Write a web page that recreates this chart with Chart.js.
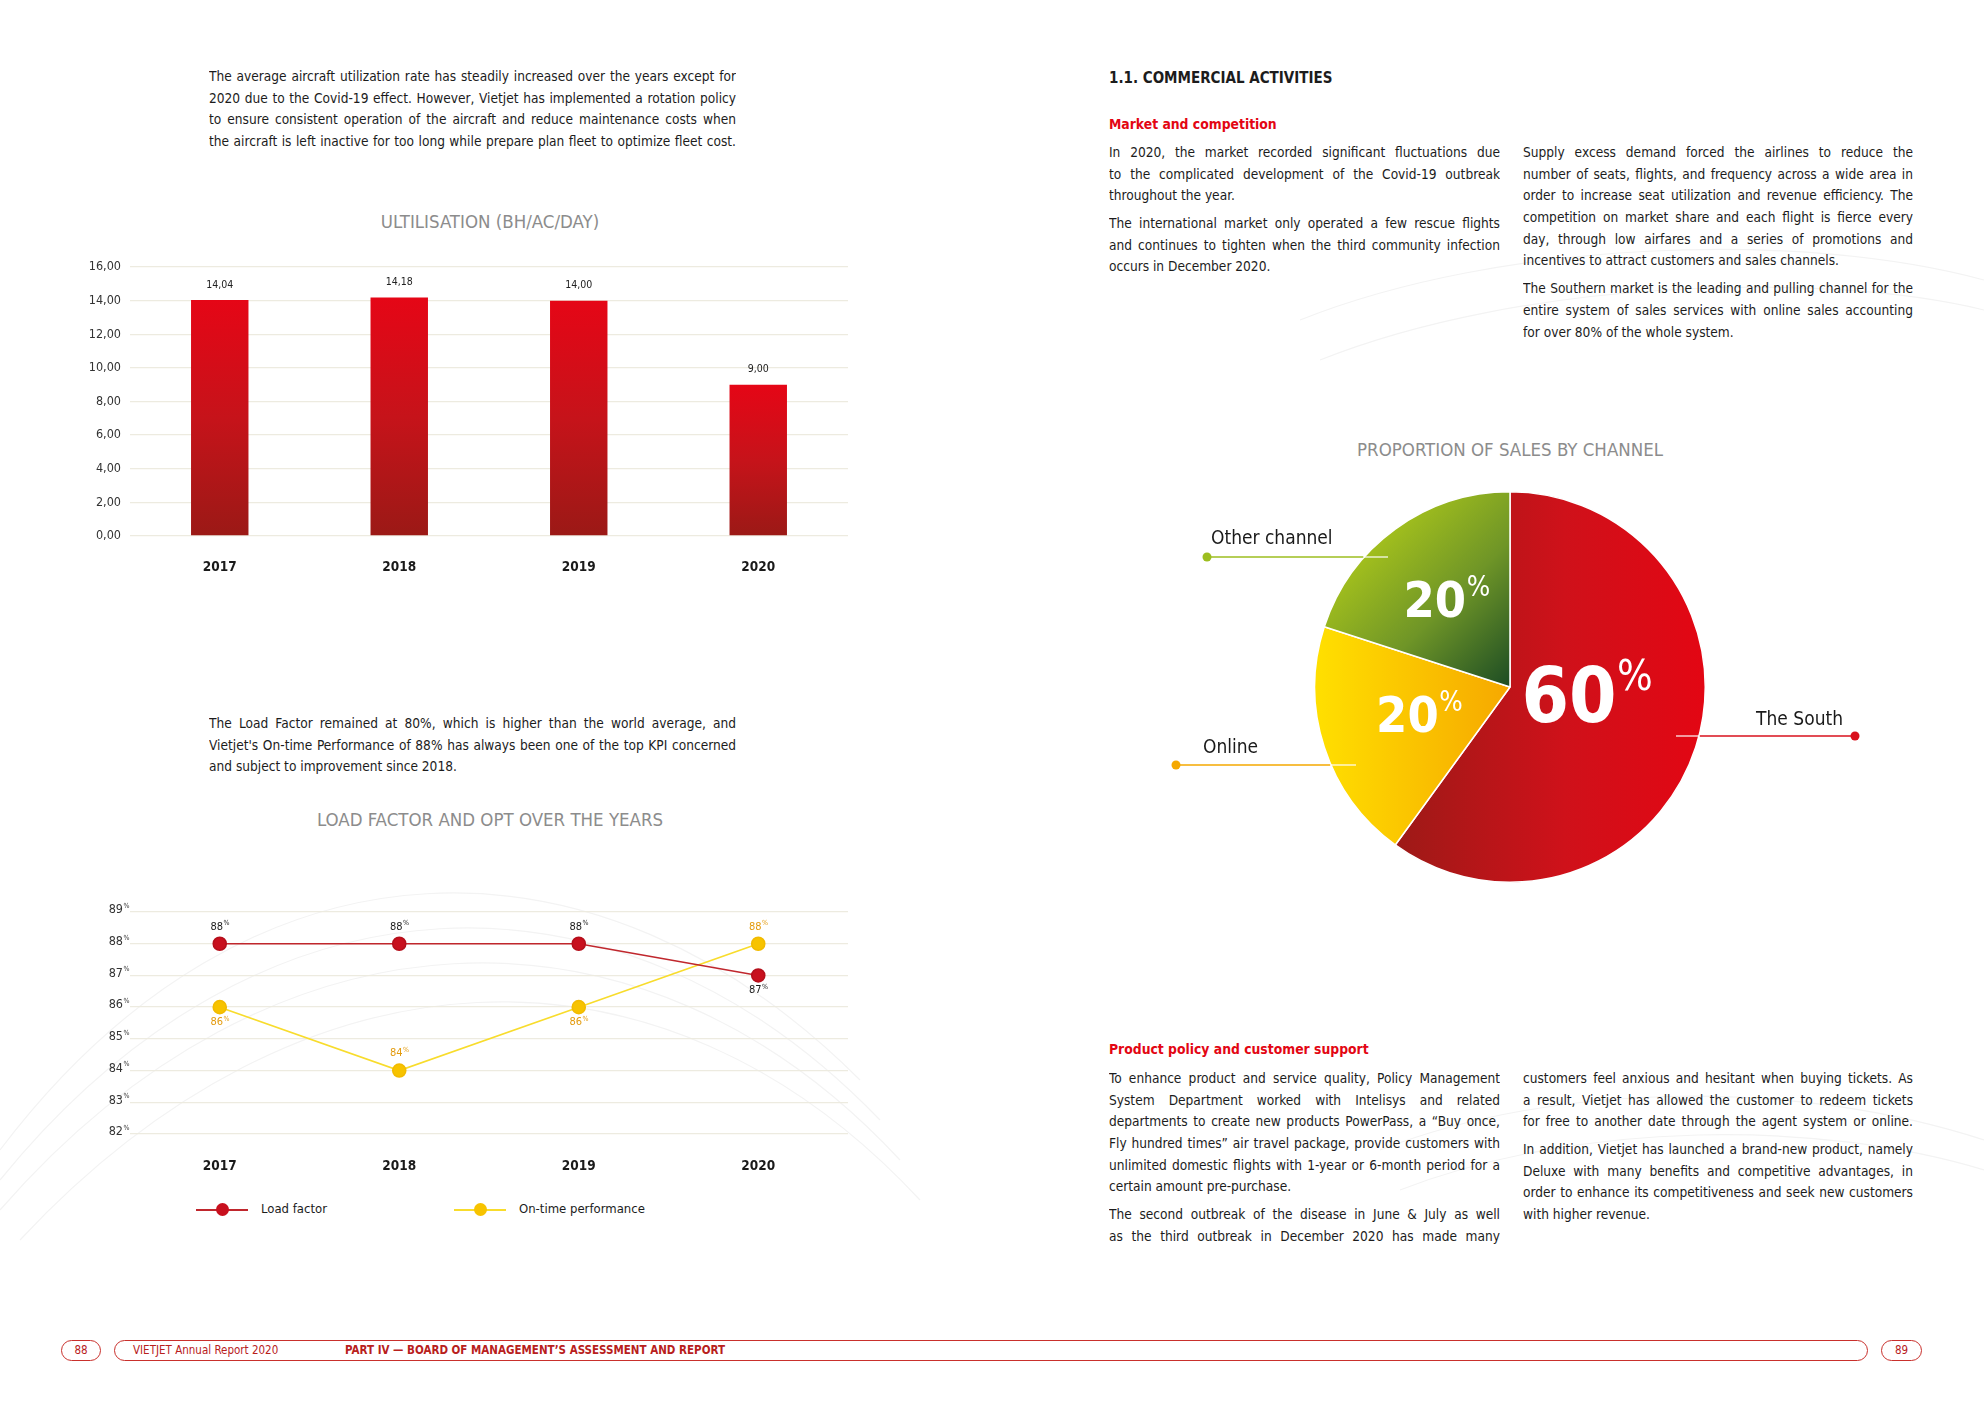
<!DOCTYPE html>
<html>
<head>
<meta charset="utf-8">
<script src="https://cdn.jsdelivr.net/npm/chart.js@4.4.0/dist/chart.umd.min.js"></script>
<style>
  body { margin: 0; width: 1984px; height: 1403px; position: relative; background: #fff; overflow: hidden;
         font-family: "Liberation Sans Narrow", "DejaVu Sans Condensed", sans-serif; color: #1c1c1c; }
  .abs { position: absolute; }
  .para div { text-align: justify; text-align-last: justify; height: 21.7px; line-height: 21.7px; font-size: 13.6px; overflow: hidden; }
  .para div.last { text-align-last: left; }
  .para div.gap { margin-top: 6px; }
  .title { font-size: 18.5px; color: #8c8c8c; text-align: center; white-space: nowrap; }
  .head { font-weight: bold; white-space: nowrap; }
  .red { color: #e30613; }
  .pill { border: 1.5px solid #c9302c; border-radius: 12px; height: 21px; box-sizing: border-box; color: #b8201c; font-size: 11.5px; line-height: 19px; }
  .legend span.line { position: absolute; height: 2px; top: 9px; }
  .legend span.dot { position: absolute; width: 13px; height: 13px; border-radius: 50%; top: 3px; }
  .legend span.txt { position: absolute; font-size: 13px; top: 1px; white-space: nowrap; }
</style>
</head>
<body>

<svg class="abs" style="left:0;top:0" width="1984" height="1403">
  <g fill="none" stroke="#f3f3f3" stroke-width="1.2">
    <path d="M0 1150 C 250 820, 600 820, 860 1080"/>
    <path d="M0 1180 C 260 860, 620 850, 880 1120"/>
    <path d="M0 1210 C 270 900, 640 880, 900 1160"/>
    <path d="M20 1240 C 300 940, 660 920, 920 1200"/>
    <path d="M1300 320 C 1500 240, 1800 230, 1984 280"/>
    <path d="M1320 360 C 1520 280, 1820 270, 1984 310"/>
    <path d="M1380 1150 C 1560 1080, 1800 1080, 1984 1140"/>
    <path d="M1400 1190 C 1580 1120, 1820 1120, 1984 1170"/>
  </g>
</svg>

<!-- left page -->
<div class="abs para" id="p1" style="left:209px;top:66px;width:527px"></div>
<div class="abs title" style="left:290px;top:211px;width:400px">ULTILISATION (BH/AC/DAY)</div>
<canvas id="barChart" class="abs" style="left:60px;top:250px"></canvas>

<div class="abs para" id="p2" style="left:209px;top:713px;width:527px"></div>
<div class="abs title" style="left:240px;top:809px;width:500px">LOAD FACTOR AND OPT OVER THE YEARS</div>
<canvas id="lineChart" class="abs" style="left:60px;top:890px"></canvas>
<div class="abs legend" id="legend" style="left:0;top:1200px;width:900px;height:20px"></div>

<!-- right page -->
<div class="abs head" style="left:1109px;top:69px;font-size:15px">1.1. COMMERCIAL ACTIVITIES</div>
<div class="abs head red" style="left:1109px;top:116px;font-size:13.8px">Market and competition</div>
<div class="abs para" id="p3" style="left:1109px;top:142px;width:391px"></div>
<div class="abs para" id="p4" style="left:1523px;top:142px;width:390px"></div>
<div class="abs title" style="left:1260px;top:439px;width:500px">PROPORTION OF SALES BY CHANNEL</div>
<canvas id="pieChart" class="abs" style="left:1150px;top:487px"></canvas>

<div class="abs head red" style="left:1109px;top:1041px;font-size:13.8px">Product policy and customer support</div>
<div class="abs para" id="p5" style="left:1109px;top:1068px;width:391px"></div>
<div class="abs para" id="p6" style="left:1523px;top:1068px;width:390px"></div>

<!-- footer -->
<div class="abs pill" style="left:61px;top:1340px;width:40px;text-align:center">88</div>
<div class="abs pill" style="left:114px;top:1340px;width:1754px;border-radius:14px">
  <span class="abs" style="left:18px;top:0">VIETJET Annual Report 2020</span>
  <span class="abs" style="left:230px;top:0;font-weight:bold">PART IV — BOARD OF MANAGEMENT’S ASSESSMENT AND REPORT</span>
</div>
<div class="abs pill" style="left:1881px;top:1340px;width:41px;text-align:center">89</div>

<script>
//---------------------DATA--------------------------------------//
const years = ['2017', '2018', '2019', '2020'];
const utilisation = [14.04, 14.18, 14.00, 9.00];
const utilMin = 0, utilMax = 16, utilStep = 2;

const loadFactor = [88, 88, 88, 87];
const onTime = [86, 84, 86, 88];
const pctMin = 82, pctMax = 89;
const seriesNames = ['Load factor', 'On-time performance'];

const channels = ['The South', 'Online', 'Other channel'];
const channelShare = [60, 20, 20];

//---------------------TEXT--------------------------------------//
const para1 = [
  'The average aircraft utilization rate has steadily increased over the years except for',
  '2020 due to the Covid-19 effect. However, Vietjet has implemented a rotation policy',
  'to ensure consistent operation of the aircraft and reduce maintenance costs when',
  'the aircraft is left inactive for too long while prepare plan fleet to optimize fleet cost.'
];
const para2 = [
  'The Load Factor remained at 80%, which is higher than the world average, and',
  'Vietjet\'s On-time Performance of 88% has always been one of the top KPI concerned',
  '*and subject to improvement since 2018.'
];
const para3 = [
  'In 2020, the market recorded significant fluctuations due',
  'to the complicated development of the Covid-19 outbreak',
  '*throughout the year.',
  '+The international market only operated a few rescue flights',
  'and continues to tighten when the third community infection',
  '*occurs in December 2020.'
];
const para4 = [
  'Supply excess demand forced the airlines to reduce the',
  'number of seats, flights, and frequency across a wide area in',
  'order to increase seat utilization and revenue efficiency. The',
  'competition on market share and each flight is fierce every',
  'day, through low airfares and a series of promotions and',
  '*incentives to attract customers and sales channels.',
  '+The Southern market is the leading and pulling channel for the',
  'entire system of sales services with online sales accounting',
  '*for over 80% of the whole system.'
];
const para5 = [
  'To enhance product and service quality, Policy Management',
  'System Department worked with Intelisys and related',
  'departments to create new products PowerPass, a “Buy once,',
  'Fly hundred times” air travel package, provide customers with',
  'unlimited domestic flights with 1-year or 6-month period for a',
  '*certain amount pre-purchase.',
  '+The second outbreak of the disease in June & July as well',
  'as the third outbreak in December 2020 has made many'
];
const para6 = [
  'customers feel anxious and hesitant when buying tickets. As',
  'a result, Vietjet has allowed the customer to redeem tickets',
  'for free to another date through the agent system or online.',
  '+In addition, Vietjet has launched a brand-new product, namely',
  'Deluxe with many benefits and competitive advantages, in',
  'order to enhance its competitiveness and seek new customers',
  '*with higher revenue.'
];

function fillPara(id, lines) {
  const box = document.getElementById(id);
  lines.forEach(l => {
    const d = document.createElement('div');
    let t = l;
    if (t[0] === '+') { d.className = 'gap'; t = t.slice(1); }
    if (t[0] === '*') { d.className += ' last'; t = t.slice(1); }
    d.textContent = t;
    box.appendChild(d);
  });
}
fillPara('p1', para1);
fillPara('p2', para2);
fillPara('p3', para3);
fillPara('p4', para4);
fillPara('p5', para5);
fillPara('p6', para6);

const FONT = '"Liberation Sans Narrow", "DejaVu Sans Condensed", sans-serif';
Chart.defaults.font.family = FONT;
Chart.defaults.color = '#222';

function setSize(id, w, h) {
  const c = document.getElementById(id);
  c.style.width = w + 'px';
  c.style.height = h + 'px';
  c.width = w; c.height = h;
  return c;
}

// number with a small raised % sign
function drawPct(ctx, num, x, y, size, pctSize, color, weight) {
  ctx.save();
  ctx.fillStyle = color;
  ctx.textBaseline = 'middle';
  ctx.font = (weight || 'normal') + ' ' + size + 'px ' + FONT;
  const w1 = ctx.measureText(num).width;
  ctx.font = 'normal ' + pctSize + 'px ' + FONT;
  const w2 = ctx.measureText('%').width;
  const x0 = x - (w1 + w2) / 2;
  ctx.font = (weight || 'normal') + ' ' + size + 'px ' + FONT;
  ctx.textAlign = 'left';
  ctx.fillText(num, x0, y);
  ctx.font = 'normal ' + pctSize + 'px ' + FONT;
  ctx.fillText('%', x0 + w1 + 0.5, y - size * 0.3);
  ctx.restore();
}

//---------------------BAR CHART--------------------------------------//
function barFill(ctx) {
  const y = ctx.chart.scales.y;
  if (!y || ctx.raw === undefined) return '#d0101a';
  const top = y.getPixelForValue(ctx.raw);
  const bottom = y.getPixelForValue(0);
  if (!isFinite(top) || !isFinite(bottom) || top === bottom) return '#d0101a';
  const g = ctx.chart.ctx.createLinearGradient(0, top, 0, bottom);
  g.addColorStop(0, '#e50616');
  g.addColorStop(0.5, '#c6131a');
  g.addColorStop(1, '#9b1916');
  return g;
}

const barLabels = {
  id: 'barLabels',
  afterDatasetsDraw(chart) {
    const ctx = chart.ctx;
    const meta = chart.getDatasetMeta(0);
    ctx.save();
    ctx.font = '10.5px ' + FONT;
    ctx.fillStyle = '#222';
    ctx.textAlign = 'center';
    ctx.textBaseline = 'middle';
    meta.data.forEach((bar, i) => {
      ctx.fillText(utilisation[i].toFixed(2).replace('.', ','), bar.x, bar.y - 15);
    });
    ctx.restore();
  }
};

new Chart(setSize('barChart', 800, 335), {
  type: 'bar',
  data: {
    labels: years,
    datasets: [{
      data: utilisation,
      backgroundColor: barFill,
      barPercentage: 0.64,
      categoryPercentage: 0.5
    }]
  },
  options: {
    responsive: false,
    animation: false,
    layout: { padding: { top: 17, right: 12 } },
    plugins: { legend: { display: false }, tooltip: { enabled: false } },
    scales: {
      x: {
        grid: { display: false },
        border: { display: false },
        ticks: { font: { size: 13.5, weight: 'bold' }, color: '#1a1a1a', padding: 15 },
        afterFit: s => { s.height = 49; }
      },
      y: {
        min: utilMin, max: utilMax,
        grid: { color: '#edebe0', drawTicks: false, lineWidth: 1.3 },
        border: { display: false },
        ticks: { stepSize: utilStep, padding: 9, font: { size: 12.5 }, color: '#333',
                 callback: v => v.toFixed(2).replace('.', ',') },
        afterFit: s => { s.width = 70; }
      }
    }
  },
  plugins: [barLabels]
});

//---------------------LINE CHART--------------------------------------//
const lineLabels = {
  id: 'lineLabels',
  afterDatasetsDraw(chart) {
    const ctx = chart.ctx;
    const ys = chart.scales.y;
    // y axis ticks with raised %
    ys.ticks.forEach(t => {
      const py = ys.getPixelForValue(t.value);
      ctx.save();
      ctx.font = '12.5px ' + FONT;
      ctx.fillStyle = '#333';
      ctx.textAlign = 'right';
      ctx.textBaseline = 'middle';
      ctx.fillText(String(t.value), chart.chartArea.left - 7, py - 2);
      ctx.font = '7px ' + FONT;
      ctx.textAlign = 'left';
      ctx.fillText('%', chart.chartArea.left - 6.5, py - 6);
      ctx.restore();
    });
    chart.data.datasets.forEach((ds, di) => {
      chart.getDatasetMeta(di).data.forEach((pt, i) => {
        const off = ds.labelSide[i] === 'top' ? -17 : 15;
        drawPct(ctx, String(ds.data[i]), pt.x, pt.y + off, 11, 7, ds.labelColor, 'normal');
      });
    });
  }
};

new Chart(setSize('lineChart', 800, 300), {
  type: 'line',
  data: {
    labels: years,
    datasets: [{
      label: seriesNames[0],
      data: loadFactor,
      borderColor: '#c0272d',
      borderWidth: 1.6,
      pointBackgroundColor: '#c8101e',
      pointBorderColor: '#b50f1b',
      pointRadius: 6.5,
      labelSide: ['top', 'top', 'top', 'bottom'],
      labelColor: '#1a1a1a'
    }, {
      label: seriesNames[1],
      data: onTime,
      borderColor: '#f8dc2c',
      borderWidth: 1.6,
      pointBackgroundColor: '#f7c300',
      pointBorderColor: '#f2bb00',
      pointRadius: 6.5,
      labelSide: ['bottom', 'top', 'bottom', 'top'],
      labelColor: '#e39a0c'
    }]
  },
  options: {
    responsive: false,
    animation: false,
    layout: { padding: { top: 22, right: 12 } },
    plugins: { legend: { display: false }, tooltip: { enabled: false } },
    scales: {
      x: {
        offset: true,
        grid: { display: false },
        border: { display: false },
        ticks: { font: { size: 13.5, weight: 'bold' }, color: '#1a1a1a', padding: 16 },
        afterFit: s => { s.height = 56; }
      },
      y: {
        min: pctMin, max: pctMax,
        grid: { color: '#edebe0', drawTicks: false, lineWidth: 1.3 },
        border: { display: false },
        ticks: { stepSize: 1, display: false },
        afterFit: s => { s.width = 70; }
      }
    }
  },
  plugins: [lineLabels]
});

// legend built from the series names
const legendBox = document.getElementById('legend');
const legendStyle = [
  { x: 196, line: '#c0272d', dot: '#c8101e' },
  { x: 454, line: '#f8dc2c', dot: '#f7c300' }
];
seriesNames.forEach((name, i) => {
  const s = legendStyle[i];
  legendBox.insertAdjacentHTML('beforeend',
    `<span class="line" style="left:${s.x}px;width:52px;background:${s.line}"></span>` +
    `<span class="dot" style="left:${s.x + 20}px;background:${s.dot}"></span>` +
    `<span class="txt" style="left:${s.x + 65}px">${name}</span>`);
});

//---------------------PIE CHART--------------------------------------//
function pieGeom(chart) {
  const a = chart.chartArea;
  const cx = (a.left + a.right) / 2, cy = (a.top + a.bottom) / 2;
  const r = Math.min(a.right - a.left, a.bottom - a.top) / 2;
  return { cx, cy, r };
}

function pieFill(ctx) {
  const chart = ctx.chart;
  if (!chart.chartArea) return '#ccc';
  const { cx, cy, r } = pieGeom(chart);
  const c = chart.ctx;
  let g;
  if (ctx.dataIndex === 0) {
    g = c.createLinearGradient(cx - r * 0.6, 0, cx + r, 0);
    g.addColorStop(0, '#9c1a17');
    g.addColorStop(0.55, '#cf111a');
    g.addColorStop(1, '#e30613');
  } else if (ctx.dataIndex === 1) {
    g = c.createLinearGradient(cx - r, 0, cx, 0);
    g.addColorStop(0, '#ffe000');
    g.addColorStop(1, '#f6a800');
  } else {
    g = c.createLinearGradient(cx - r * 0.75, cy - r * 0.75, cx, cy);
    g.addColorStop(0, '#a8c41c');
    g.addColorStop(0.5, '#6f9527');
    g.addColorStop(1, '#1c4c24');
  }
  return g;
}

const pieCallouts = {
  id: 'pieCallouts',
  afterDatasetsDraw(chart, args, opts) {
    const ctx = chart.ctx;
    const { cx, cy, r } = pieGeom(chart);
    const meta = chart.getDatasetMeta(0);
    opts.items.forEach((it, i) => {
      const y = cy + it.dy;
      const edge = Math.sqrt(r * r - it.dy * it.dy) * it.dir;
      ctx.save();
      ctx.lineWidth = 1.4;
      ctx.strokeStyle = 'rgba(255,255,255,0.85)';
      ctx.beginPath(); ctx.moveTo(cx + it.inner, y); ctx.lineTo(cx + edge, y); ctx.stroke();
      ctx.strokeStyle = it.color;
      ctx.beginPath(); ctx.moveTo(cx + edge, y); ctx.lineTo(cx + it.outer, y); ctx.stroke();
      ctx.fillStyle = it.color;
      ctx.beginPath(); ctx.arc(cx + it.outer, y, 4.5, 0, Math.PI * 2); ctx.fill();
      ctx.font = '19px ' + FONT;
      ctx.fillStyle = '#1a1a1a';
      ctx.textBaseline = 'middle';
      ctx.textAlign = it.align;
      ctx.fillText(channels[i], cx + it.lx, cy + it.ly);
      ctx.restore();

      const p = meta.data[i].tooltipPosition();
      drawPct(ctx, String(channelShare[i]), p.x + it.tx, p.y + it.ty, it.size, it.size * 0.55, '#fff', 'bold');
    });
  }
};

new Chart(setSize('pieChart', 720, 400), {
  type: 'pie',
  data: {
    labels: channels,
    datasets: [{
      data: channelShare,
      backgroundColor: pieFill,
      borderColor: '#fff',
      borderWidth: 1.5
    }]
  },
  options: {
    responsive: false,
    animation: false,
    layout: { padding: 4 },
    plugins: {
      legend: { display: false },
      tooltip: { enabled: false },
      pieCallouts: {
        items: [
          { dy: 49, dir: 1, inner: 166, outer: 345, lx: 333, ly: 33, align: 'right', color: '#d9101c', tx: -16, ty: -15, size: 76 },
          { dy: 78, dir: -1, inner: -154, outer: -334, lx: -307, ly: 61, align: 'left', color: '#f5a800', tx: 2, ty: 2, size: 50 },
          { dy: -130, dir: -1, inner: -122, outer: -303, lx: -299, ly: -148, align: 'left', color: '#9dbe1f', tx: -6, ty: -4, size: 50 }
        ]
      }
    }
  },
  plugins: [pieCallouts]
});
</script>
</body>
</html>
